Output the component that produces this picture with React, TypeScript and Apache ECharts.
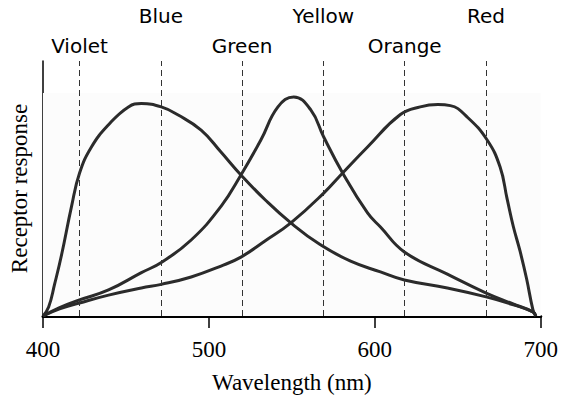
import React, { useEffect, useRef } from "react";
import * as echarts from "echarts";

const xTicks = [400, 500, 600, 700];
const colorNames = ["Violet", "Blue", "Green", "Yellow", "Orange", "Red"];
const colorWavelengths = [422, 471, 520, 569, 618, 667];

const blueCurve: [number, number][] = [
  [400, 0], [403.4, 3.5], [407, 12.5], [411.2, 24], [417.2, 43], [422, 56], [429.2, 66.3],
  [439.5, 75], [451.5, 82], [459.3, 83.3], [471.3, 82], [481.5, 78.8], [495.3, 72.9],
  [507, 64.5], [519.3, 55.3], [534, 45.5], [549.4, 36.5], [567, 28], [585.4, 21.5], [603.4, 17.3],
  [617.8, 14.1], [643.7, 11], [667.1, 7.5], [683, 4.5], [695.3, 1.6], [697, 0],
];
const greenCurve: [number, number][] = [
  [400, 0], [410, 3.3], [422, 6.3], [439.5, 10.2], [459.3, 17], [471.3, 21], [489.3, 29.8],
  [507.3, 43], [519.3, 55.3], [531.3, 69], [541.6, 82], [551.1, 85.9], [561.4, 80.8],
  [569.2, 70.2], [580.6, 56.1], [595.6, 40.4], [603.4, 34.9], [617.8, 25.1], [643.7, 16.4],
  [667.1, 9], [683, 4.8], [695.3, 1.6], [697, 0],
];
const redCurve: [number, number][] = [
  [400, 0], [410, 2.8], [422, 5.1], [439.5, 8.2], [459.3, 11], [471.3, 12.4], [489.3, 15.3],
  [507.3, 19.6], [519.3, 23.1], [534, 29.5], [549.4, 36.5], [569.2, 48.2], [580.6, 56.1],
  [595.6, 66.3], [615.4, 79], [627.4, 82], [638, 82.9], [645.5, 82.5], [655.7, 78],
  [667.7, 69], [675.5, 58.4], [679.7, 46], [683.5, 35], [687.5, 25.5], [691.5, 14.5],
  [695.3, 2.4], [697, 0],
];

const labelDistances = [5, 35, 5, 35, 5, 35];

export default function App() {
  const ref = useRef<HTMLDivElement>(null);
  useEffect(() => {
    if (!ref.current) return;
    const chart = echarts.init(ref.current, undefined, { renderer: "svg" });
    const lineStyle = { color: "#2b2b2b", width: 3 };
    chart.setOption({
      animation: false,
      backgroundColor: "#ffffff",
      grid: { left: 41, right: 20, top: 61, bottom: 85 },
      xAxis: {
        type: "value",
        min: 400,
        max: 700,
        interval: 100,
        name: "Wavelength (nm)",
        nameLocation: "middle",
        nameGap: 55,
        nameTextStyle: { fontFamily: "Liberation Serif", fontSize: 23, color: "#000" },
        axisLine: { show: true, lineStyle: { color: "#000", width: 3 } },
        axisTick: { show: true, length: 12, lineStyle: { color: "#000", width: 1.5 } },
        axisLabel: {
          fontFamily: "Liberation Serif",
          fontSize: 23,
          color: "#000",
          margin: 22,
          formatter: (v: number) => (xTicks.includes(v) ? String(v) : ""),
        },
        splitLine: { show: false },
      },
      yAxis: {
        type: "value",
        min: 0,
        max: 100,
        name: "Receptor response",
        nameLocation: "middle",
        nameGap: 12,
        nameTextStyle: { fontFamily: "Liberation Serif", fontSize: 23, color: "#000" },
        axisLine: { show: true, lineStyle: { color: "#000", width: 1.5 } },
        axisTick: { show: false },
        axisLabel: { show: false },
        splitLine: { show: false },
      },
      series: [
        {
          type: "line",
          data: blueCurve,
          smooth: 0.45,
          showSymbol: false,
          lineStyle,
          z: 3,
          markArea: {
            silent: true,
            itemStyle: { color: "#fcfcfc" },
            data: [[{ xAxis: 400, yAxis: 0 }, { xAxis: 701, yAxis: 87.5 }]],
          },
          markLine: {
            silent: true,
            symbol: ["none", "none"],
            lineStyle: { color: "#333", width: 1, type: [6, 4] },
            data: colorWavelengths.map((w, i) => ({
              xAxis: w,
              label: {
                show: true,
                position: "end",
                formatter: colorNames[i],
                fontFamily: "DejaVu Sans",
                fontSize: 20,
                color: "#000",
                distance: labelDistances[i],
              },
            })),
          },
        },
        { type: "line", data: greenCurve, smooth: 0.45, showSymbol: false, lineStyle, z: 3 },
        { type: "line", data: redCurve, smooth: 0.45, showSymbol: false, lineStyle, z: 3 },
      ],
    });
    return () => chart.dispose();
  }, []);
  return <div ref={ref} style={{ width: 561, height: 401, position: "absolute", left: 0, top: 0 }} />;
}
